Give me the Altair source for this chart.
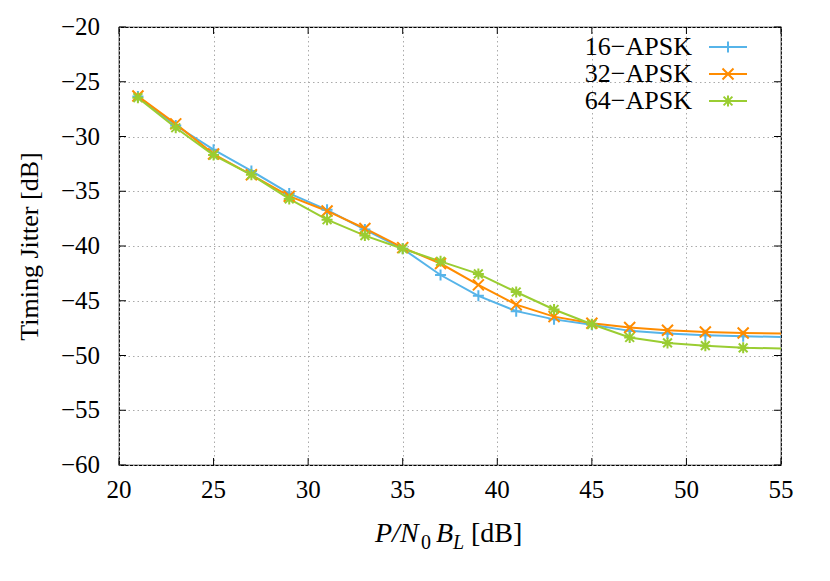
import altair as alt
import pandas as pd

# ---- data ----
x_vals = [21, 23, 25, 27, 29, 31, 33, 35, 37, 39, 41, 43, 45, 47, 49, 51, 53, 55]
apsk16 = [-26.35, -29.0, -31.2, -33.15, -35.2, -36.7, -38.5, -40.25, -42.65, -44.55,
          -45.95, -46.7, -47.2, -47.75, -48.0, -48.15, -48.25, -48.3]
apsk32 = [-26.3, -28.85, -31.6, -33.5, -35.45, -36.8, -38.4, -40.15, -41.6, -43.55,
          -45.35, -46.45, -47.05, -47.45, -47.7, -47.85, -47.95, -48.0]
apsk64 = [-26.45, -29.2, -31.7, -33.5, -35.7, -37.6, -39.05, -40.25, -41.4, -42.55,
          -44.2, -45.8, -47.15, -48.35, -48.85, -49.1, -49.3, -49.35]
series = ["16\u2212APSK", "32\u2212APSK", "64\u2212APSK"]
colors = ["#56B4E9", "#FF8C00", "#9ACD32"]
x_ticks = [20, 25, 30, 35, 40, 45, 50, 55]
y_ticks = [-60, -55, -50, -45, -40, -35, -30, -25, -20]
x_tick_labels = ["20", "25", "30", "35", "40", "45", "50", "55"]
y_tick_labels = ["\u221260", "\u221255", "\u221250", "\u221245", "\u221240",
                 "\u221235", "\u221230", "\u221225", "\u221220"]

PLUS = "M-1,0L1,0M0,-1L0,1"
CROSS = "M-1,-1L1,1M-1,1L1,-1"
STAR = "M-1,0L1,0M0,-1L0,1M-0.8,-0.8L0.8,0.8M-0.8,0.8L0.8,-0.8"
shapes = [PLUS, CROSS, STAR]

W, H = 662, 438
FONT = "Liberation Serif"

rows = []
for name, vals in zip(series, [apsk16, apsk32, apsk64]):
    for xv, yv in zip(x_vals, vals):
        rows.append({"x": xv, "y": yv, "series": name})
df = pd.DataFrame(rows)

xscale = alt.Scale(domain=[20, 55], nice=False, zero=False)
yscale = alt.Scale(domain=[-60, -20], nice=False, zero=False)
cscale = alt.Scale(domain=series, range=colors)
sscale = alt.Scale(domain=series, range=shapes)

xaxis = alt.Axis(values=x_ticks, title=None, labels=False)
yaxis = alt.Axis(values=y_ticks, title="Timing Jitter [dB]", labels=False, titlePadding=77)

base = alt.Chart(df)

lines = base.mark_line(strokeWidth=2, clip=True).encode(
    x=alt.X("x:Q", scale=xscale, axis=xaxis),
    y=alt.Y("y:Q", scale=yscale, axis=yaxis),
    color=alt.Color("series:N", scale=cscale, legend=None),
    detail="series:N",
)

points = base.transform_filter(alt.datum.x < 55).mark_point(
    filled=False, strokeWidth=2, size=121, opacity=1
).encode(
    x=alt.X("x:Q", scale=xscale, axis=xaxis),
    y=alt.Y("y:Q", scale=yscale, axis=yaxis),
    color=alt.Color("series:N", scale=cscale, legend=None),
    shape=alt.Shape("series:N", scale=sscale, legend=None),
)

# inward ticks on all four sides + tick labels
xt = alt.Chart(pd.DataFrame({"v": x_ticks, "lab": x_tick_labels}))
yt = alt.Chart(pd.DataFrame({"v": y_ticks, "lab": y_tick_labels}))
tick_style = dict(color="black", strokeWidth=1)
ticks = [
    xt.mark_rule(**tick_style).encode(x=alt.X("v:Q", scale=xscale, axis=xaxis), y=alt.value(H), y2=alt.value(H - 7)),
    xt.mark_rule(**tick_style).encode(x=alt.X("v:Q", scale=xscale, axis=xaxis), y=alt.value(0), y2=alt.value(7)),
    yt.mark_rule(**tick_style).encode(y=alt.Y("v:Q", scale=yscale, axis=yaxis), x=alt.value(0), x2=alt.value(7)),
    yt.mark_rule(**tick_style).encode(y=alt.Y("v:Q", scale=yscale, axis=yaxis), x=alt.value(W), x2=alt.value(W - 7)),
    xt.mark_text(align="center", baseline="top", font=FONT, fontSize=25, color="black").encode(
        x=alt.X("v:Q", scale=xscale, axis=xaxis), y=alt.value(H + 13), text="lab:N"),
    yt.mark_text(align="right", baseline="middle", font=FONT, fontSize=25, color="black").encode(
        y=alt.Y("v:Q", scale=yscale, axis=yaxis), x=alt.value(-19), text="lab:N"),
]

# legend (gnuplot style: label left, sample right)
legend_layers = []
row_y = [20, 47, 74]
for name, col, shp, ry in zip(series, colors, shapes, row_y):
    ld = alt.Chart(pd.DataFrame({"label": [name]}))
    legend_layers.append(
        ld.mark_text(align="right", baseline="middle", font=FONT, fontSize=26, color="black").encode(
            text="label:N", x=alt.value(573), y=alt.value(ry))
    )
    legend_layers.append(
        ld.mark_rule(color=col, strokeWidth=2).encode(x=alt.value(590), x2=alt.value(628), y=alt.value(ry))
    )
    legend_layers.append(
        ld.mark_point(shape=shp, filled=False, strokeWidth=2, size=121, color=col, opacity=1).encode(
            x=alt.value(609), y=alt.value(ry))
    )

# x-axis title with italics and subscripts
def txt(s, x, y, size, italic):
    return alt.Chart(pd.DataFrame({"t": [s]})).mark_text(
        align="left", baseline="alphabetic", font=FONT, fontSize=size,
        fontStyle="italic" if italic else "normal", color="black"
    ).encode(text="t:N", x=alt.value(x), y=alt.value(y))

title_parts = [
    txt("P/N", 256, 515, 28, True),
    txt("0", 302, 522, 20, False),
    txt("B", 317, 515, 28, True),
    txt("L", 334, 522, 20, True),
    txt("[dB]", 352, 515, 28, False),
]

chart = alt.layer(lines, *ticks, points, *legend_layers, *title_parts).properties(
    width=W, height=H,
    autosize=alt.AutoSizeParams(type="none"),
    padding={"left": 111, "top": 19, "right": 30, "bottom": 100},
    background="white",
).configure(
    font=FONT
).configure_view(
    stroke="black", strokeWidth=1.2
).configure_axis(
    grid=True, ticks=False, tickSize=0, domain=False,
    titleFont=FONT, titleFontSize=26, titleFontWeight="normal", titleColor="black",
    gridColor="#aaaaaa", gridDash=[1.5, 3], gridWidth=1,
)

chart.save("out.html", embed_options={"renderer": "svg", "actions": False})
